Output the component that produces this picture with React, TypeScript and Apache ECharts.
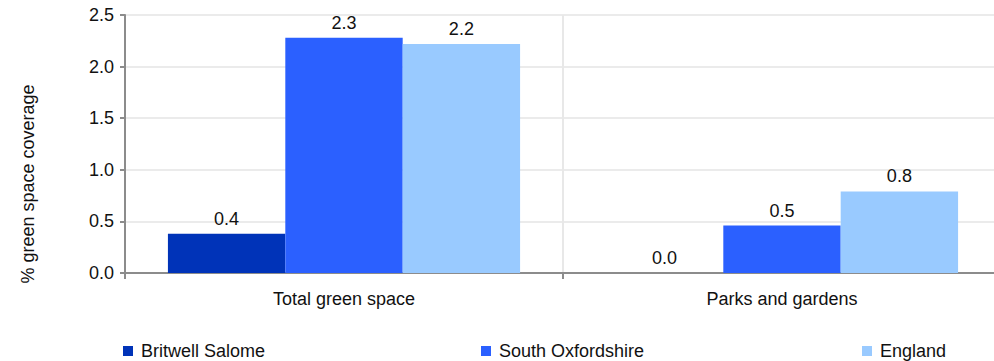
import React, { useEffect, useRef } from "react";
import * as echarts from "echarts";

const categories = ["Total green space", "Parks and gardens"];
const seriesNames = ["Britwell Salome", "South Oxfordshire", "England"];
const britwellSalome = [0.38, 0.0];
const southOxfordshire = [2.28, 0.46];
const england = [2.22, 0.79];
const yTicks = [0, 0.5, 1.0, 1.5, 2.0, 2.5];
const colors = ["#0033B8", "#2B60FF", "#99CAFF"];

const FONT = "'Liberation Sans', Arial, sans-serif";

export default function App() {
  const ref = useRef<HTMLDivElement>(null);
  useEffect(() => {
    document.body.style.margin = "0";
    if (!ref.current) return;
    const chart = echarts.init(ref.current, undefined, { renderer: "svg" });
    const values = [britwellSalome, southOxfordshire, england];
    const legendLefts = [118, 476, 857];
    chart.setOption({
      animation: false,
      textStyle: { fontFamily: FONT },
      grid: {
        left: 125,
        width: 876,
        top: 15,
        bottom: 88,
        containLabel: false,
        outerBoundsMode: "none",
      },
      legend: seriesNames.map((n, i) => ({
        data: [n],
        left: legendLefts[i],
        top: 337,
        itemWidth: 10,
        itemHeight: 10,
        icon: "rect",
        selectedMode: false,
        textStyle: { fontSize: 18, color: "#111", fontFamily: FONT, padding: [0, 0, 0, 3] },
      })),
      xAxis: {
        type: "category",
        data: categories,
        axisLine: { show: true, lineStyle: { color: "#8c8c8c", width: 2 } },
        axisTick: { show: true, length: 6, lineStyle: { color: "#8c8c8c", width: 2 } },
        axisLabel: { fontSize: 18, color: "#111", margin: 17, fontFamily: FONT },
        splitLine: { show: true, lineStyle: { color: "#e8e8e8", width: 2 } },
      },
      yAxis: {
        type: "value",
        min: yTicks[0],
        max: yTicks[yTicks.length - 1],
        interval: 0.5,
        axisLine: { show: true, lineStyle: { color: "#8c8c8c", width: 2 } },
        axisTick: { show: true, length: 5, lineStyle: { color: "#8c8c8c", width: 2 } },
        axisLabel: {
          fontSize: 18,
          color: "#111",
          margin: 11,
          fontFamily: FONT,
          formatter: (v: number) => v.toFixed(1),
        },
        splitLine: { show: true, lineStyle: { color: "#ebebeb", width: 2 } },
      },
      graphic: [
        {
          type: "text",
          x: 28,
          y: 184,
          rotation: Math.PI / 2,
          style: {
            text: "% green space coverage",
            fontSize: 18,
            fontFamily: FONT,
            fill: "#111",
            align: "center",
            verticalAlign: "middle",
          },
        },
      ],
      series: seriesNames.map((n, i) => ({
        name: n,
        type: "bar",
        data: values[i],
        barGap: "0%",
        barCategoryGap: "19.6%",
        itemStyle: { color: colors[i] },
        label: {
          show: true,
          position: "top",
          distance: 6,
          fontSize: 18,
          color: "#111",
          fontFamily: FONT,
          formatter: (p: any) => Number(p.value).toFixed(1),
        },
      })),
    });
    return () => chart.dispose();
  }, []);
  return <div ref={ref} style={{ width: 994, height: 361 }} />;
}
